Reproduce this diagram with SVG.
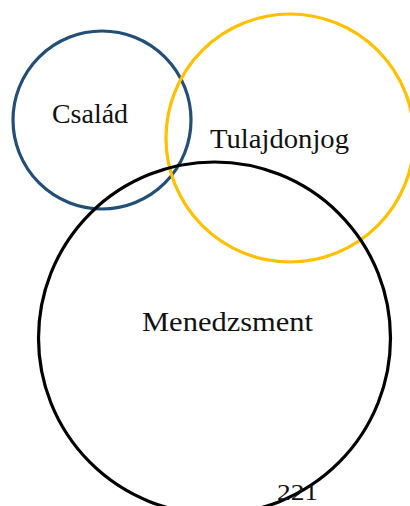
<svg xmlns="http://www.w3.org/2000/svg" width="410" height="506" viewBox="0 0 410 506">
<style>
.c{fill:none;stroke-width:3.2}
.t{font-family:"Liberation Serif","DejaVu Serif",serif;font-size:27px;fill:#111}
</style>
<rect width="410" height="506" fill="#fff"/>
<g id="csalad">
<circle class="c" cx="102" cy="120" r="89" stroke="#234E77"/>
<text class="t" x="52" y="123" textLength="76" lengthAdjust="spacingAndGlyphs">Család</text>
</g>
<g id="tulajdonjog">
<circle class="c" cx="290" cy="138" r="124" stroke="#FFC000"/>
<text class="t" x="210" y="148" textLength="139" lengthAdjust="spacingAndGlyphs">Tulajdonjog</text>
</g>
<g id="menedzsment">
<circle class="c" cx="214.5" cy="338" r="176" stroke="#000"/>
<text class="t" x="142" y="331" textLength="171" lengthAdjust="spacingAndGlyphs">Menedzsment</text>
</g>
<g id="page">
<text class="t" x="277" y="500" font-size="23" style="font-size:23px" textLength="41" lengthAdjust="spacingAndGlyphs">221</text>
</g>
</svg>
